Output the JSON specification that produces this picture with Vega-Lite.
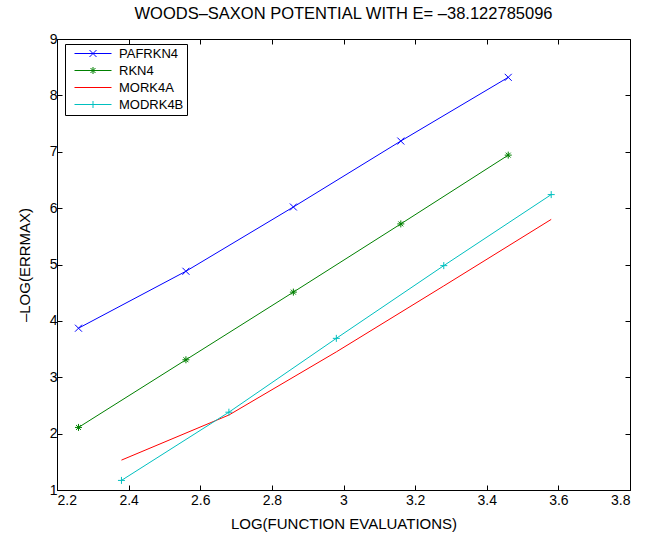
{
  "$schema": "https://vega.github.io/schema/vega-lite/v6.json",
  "width": 573,
  "height": 451,
  "autosize": "none",
  "padding": {"left": 57, "top": 39, "right": 29, "bottom": 50},
  "background": "white",
  "title": {"text": "WOODS–SAXON POTENTIAL WITH E= –38.122785096", "font": "Liberation Sans", "fontSize": 16.5, "fontWeight": "normal", "color": "black", "offset": 10},
  "config": {
    "view": {"stroke": "black", "strokeWidth": 1},
    "axis": {"grid": false, "domainColor": "black", "tickColor": "black", "labelColor": "black", "titleColor": "black", "labelFont": "Liberation Sans", "titleFont": "Liberation Sans", "labelFontSize": 14, "titleFontSize": 15, "titleFontWeight": "normal", "tickSize": -5}
  },
  "data": {"values": [
    {"series": "PAFRKN4", "x": 2.26, "y": 3.87},
    {"series": "PAFRKN4", "x": 2.56, "y": 4.88},
    {"series": "PAFRKN4", "x": 2.86, "y": 6.02},
    {"series": "PAFRKN4", "x": 3.16, "y": 7.19},
    {"series": "PAFRKN4", "x": 3.46, "y": 8.32},
    {"series": "RKN4", "x": 2.26, "y": 2.11},
    {"series": "RKN4", "x": 2.56, "y": 3.31},
    {"series": "RKN4", "x": 2.86, "y": 4.51},
    {"series": "RKN4", "x": 3.16, "y": 5.72},
    {"series": "RKN4", "x": 3.46, "y": 6.94},
    {"series": "MORK4A", "x": 2.38, "y": 1.53},
    {"series": "MORK4A", "x": 2.68, "y": 2.33},
    {"series": "MORK4A", "x": 2.98, "y": 3.45},
    {"series": "MORK4A", "x": 3.28, "y": 4.62},
    {"series": "MORK4A", "x": 3.58, "y": 5.8},
    {"series": "MODRK4B", "x": 2.38, "y": 1.17},
    {"series": "MODRK4B", "x": 2.68, "y": 2.38},
    {"series": "MODRK4B", "x": 2.98, "y": 3.69},
    {"series": "MODRK4B", "x": 3.28, "y": 4.98},
    {"series": "MODRK4B", "x": 3.58, "y": 6.24}
  ]},
  "resolve": {"axis": {"x": "independent", "y": "independent"}},
  "layer": [
    {
      "mark": {"type": "line", "strokeWidth": 1},
      "encoding": {
        "x": {"field": "x", "type": "quantitative", "scale": {"domain": [2.2, 3.8], "nice": false, "zero": false}, "axis": {"orient": "top", "labels": false, "title": null, "domain": false, "values": [2.2, 2.4, 2.6, 2.8, 3.0, 3.2, 3.4, 3.6, 3.8]}},
        "y": {"field": "y", "type": "quantitative", "scale": {"domain": [1, 9], "nice": false, "zero": false}, "axis": {"orient": "right", "labels": false, "title": null, "domain": false, "values": [1, 2, 3, 4, 5, 6, 7, 8, 9]}},
        "color": {"field": "series", "type": "nominal", "scale": {"domain": ["PAFRKN4", "RKN4", "MORK4A", "MODRK4B"], "range": ["#0000FF", "#008000", "#FF0000", "#00BFBF"]},
          "legend": {
            "title": null, "orient": "none", "legendX": 8, "legendY": 5,
            "strokeColor": "black", "fillColor": "white", "padding": 3,
            "labelFont": "Liberation Sans", "labelFontSize": 13, "labelColor": "black",
            "symbolSize": 100, "symbolStrokeWidth": 1, "rowPadding": 3, "symbolOffset": 18.5, "labelOffset": 19.5,
            "encode": {"symbols": {"update": {
              "shape": {"signal": "datum.value === 'PAFRKN4' ? 'M-3.7,0L3.7,0M-0.7,-0.7L0.7,0.7M-0.7,0.7L0.7,-0.7' : datum.value === 'RKN4' ? 'M-3.7,0L3.7,0M-0.7,0L0.7,0M0,-0.7L0,0.7M-0.5,-0.5L0.5,0.5M-0.5,0.5L0.5,-0.5' : datum.value === 'MODRK4B' ? 'M-3.7,0L3.7,0M0,-0.7L0,0.7' : 'M-3.7,0L3.7,0'"},
              "fill": {"value": "transparent"},
              "strokeWidth": {"value": 1}
            }}}
          }}
      }
    },
    {
      "transform": [{"filter": "datum.series !== 'MORK4A'"}],
      "mark": {"type": "point", "filled": false, "strokeWidth": 1, "size": 49, "opacity": 1},
      "encoding": {
        "x": {"field": "x", "type": "quantitative", "axis": {"orient": "bottom", "title": "LOG(FUNCTION EVALUATIONS)", "format": "~g", "values": [2.2, 2.4, 2.6, 2.8, 3.0, 3.2, 3.4, 3.6, 3.8], "labelPadding": 8, "titlePadding": 9}},
        "y": {"field": "y", "type": "quantitative", "axis": {"orient": "left", "title": "–LOG(ERRMAX)", "values": [1, 2, 3, 4, 5, 6, 7, 8, 9], "labelPadding": 5, "titlePadding": 17}},
        "color": {"field": "series", "type": "nominal", "legend": null},
        "shape": {"field": "series", "type": "nominal", "legend": null, "scale": {"domain": ["PAFRKN4", "RKN4", "MODRK4B"], "range": ["M-1,-1L1,1M-1,1L1,-1", "M-1,0L1,0M0,-1L0,1M-0.7,-0.7L0.7,0.7M-0.7,0.7L0.7,-0.7", "M-1,0L1,0M0,-1L0,1"]}}
      }
    }
  ]
}
